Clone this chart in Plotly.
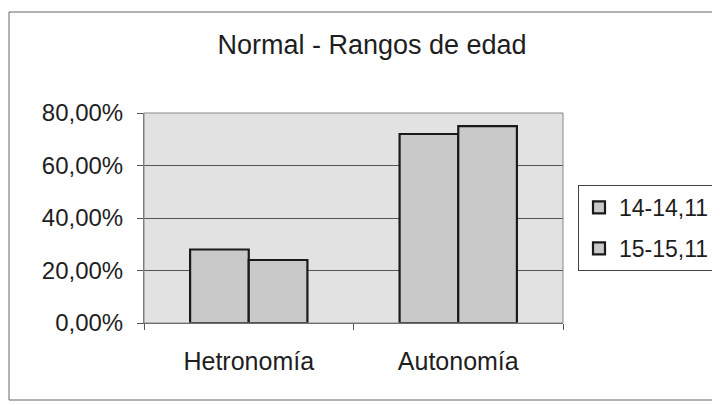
import plotly.graph_objects as go

categories = ["Hetronomía", "Autonomía"]
series_names = ["14-14,11", "15-15,11"]
values_14 = [0.28, 0.72]
values_15 = [0.24, 0.75]
y_ticks = [0, 0.2, 0.4, 0.6, 0.8]

# the page body adds an 8px margin; target screen positions are shifted back
OFF = 8
W, H = 720, 405
L, R, T, B = 144 - OFF, 157 + OFF, 113 - OFF, 82 + OFF
pw, ph = W - L - R, H - T - B

def px_x(x):  # screen x -> paper
    return (x - OFF - L) / pw

def px_y(y):  # screen y -> paper
    return (H - B - (y - OFF)) / ph

fig = go.Figure()
for i, (name, vals) in enumerate(zip(series_names, [values_14, values_15])):
    fig.add_trace(go.Bar(
        x=categories, y=vals, name=name, legendgroup=f"g{i}",
        marker=dict(color="#c9c9c9", line=dict(color="#1a1a1a", width=2.2)),
    ))

fig.update_layout(
    width=W, height=H,
    margin=dict(l=L, r=R, t=T, b=B, autoexpand=False),
    paper_bgcolor="white",
    plot_bgcolor="#e2e2e2",
    separators=",.",
    font=dict(family="Liberation Sans, Arial, sans-serif", color="#1e1e1e"),
    title=dict(text="Normal - Rangos de edad", x=px_x(372), xanchor="center",
               xref="paper", y=px_y(45) * ph / H + B / H, yanchor="middle",
               font=dict(size=27)),
    barmode="group",
    bargap=0.44,
    bargroupgap=0.0,
    showlegend=True,
    legend=dict(x=px_x(578), xanchor="left", y=px_y(228), yanchor="middle",
                bordercolor="#444", borderwidth=1, bgcolor="white",
                font=dict(size=23), tracegroupgap=8, itemwidth=30),
    xaxis=dict(showgrid=False, ticks="outside", tickson="boundaries",
               ticklen=6, tickcolor="#555", showline=True, linecolor="#555",
               linewidth=1, tickfont=dict(size=25), ticklabelstandoff=16),
    yaxis=dict(range=[0, 0.8], tickvals=y_ticks, tickformat=".2%",
               showgrid=True, gridcolor="#555", gridwidth=1,
               ticks="outside", ticklen=6, tickcolor="#555",
               showline=True, linecolor="#777", linewidth=1,
               tickfont=dict(size=24), zeroline=False, ticklabelstandoff=9),
)

# plot area border (light)
fig.add_shape(type="rect", xref="paper", yref="paper", x0=0, x1=1, y0=0, y1=1,
              line=dict(color="#888", width=1))
# outer chart border
fig.add_shape(type="rect", xref="paper", yref="paper",
              x0=px_x(9), x1=px_x(740), y0=px_y(400), y1=px_y(12),
              line=dict(color="#666", width=1))

fig.write_html("out.html")
